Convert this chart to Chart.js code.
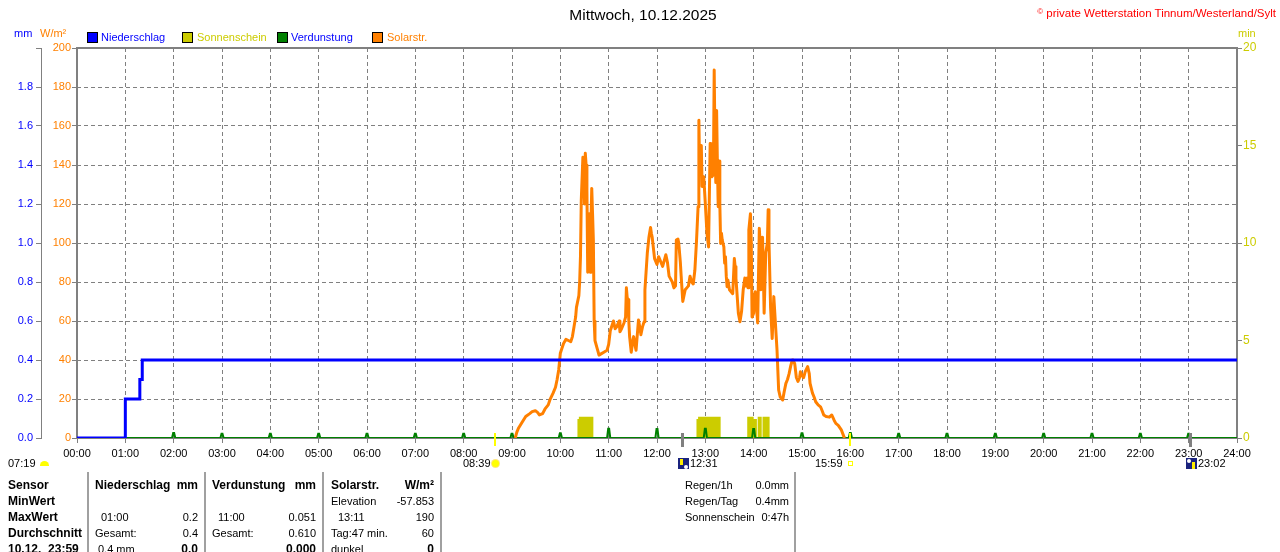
<!DOCTYPE html>
<html>
<head>
<meta charset="utf-8">
<script src="https://cdn.jsdelivr.net/npm/chart.js@4/dist/chart.umd.min.js"></script>
<style>
  html, body { margin:0; padding:0; background:#fff; }
  body { width:1280px; height:552px; overflow:hidden; position:relative; font-family:'Liberation Sans', Arial, sans-serif; font-size:11px; color:#000; }
  #c { position:absolute; left:0; top:0; }
  .t { position:absolute; white-space:nowrap; line-height:13px; }
  .b { font-weight:bold; font-size:12px; line-height:14px; }
  .r { text-align:right; }
  .box { position:absolute; width:9px; height:9px; border:1px solid #000; }
  .vl { position:absolute; top:472px; height:80px; width:2px; background:#a0a0a0; }
</style>
</head>
<body>
<canvas id="c" width="1280" height="552"></canvas>

<!-- header -->
<div class="t" style="left:0;width:1286px;text-align:center;top:6px;font-size:15.5px;line-height:18px;">Mittwoch, 10.12.2025</div>
<div class="t" style="right:4px;top:5px;color:#ff0000;font-size:11.5px;"><span style="font-size:8px;vertical-align:3px;">©</span> private Wetterstation Tinnum/Westerland/Sylt</div>

<div class="t" style="left:14px;top:27px;color:#0000ff;">mm</div>
<div class="t" style="left:40px;top:27px;color:#ff8000;">W/m²</div>
<div class="t" style="left:1238px;top:27px;color:#cccc00;">min</div>

<!-- legend -->
<div class="box" style="left:87px;top:32px;background:#0000ff;"></div>
<div class="t" style="left:101px;top:31px;color:#0000ff;">Niederschlag</div>
<div class="box" style="left:182px;top:32px;background:#cccc00;"></div>
<div class="t" style="left:197px;top:31px;color:#cccc00;">Sonnenschein</div>
<div class="box" style="left:277px;top:32px;background:#008000;"></div>
<div class="t" style="left:291px;top:31px;color:#0000ff;">Verdunstung</div>
<div class="box" style="left:372px;top:32px;background:#ff8000;"></div>
<div class="t" style="left:387px;top:31px;color:#ff8000;">Solarstr.</div>

<!-- sun / moon labels below axis -->
<div class="t" style="left:8px;top:457px;">07:19</div>
<div style="position:absolute;left:40px;top:461px;width:9px;height:5px;background:#ffff00;border-radius:5px 5px 0 0;"></div>
<div class="t" style="left:463px;top:457px;">08:39</div>
<div style="position:absolute;left:492px;top:460px;width:7px;height:7px;background:#ffff00;border-radius:50%;box-shadow:0 0 0 1px #ffe680;"></div>
<div style="position:absolute;left:678px;top:458px;width:11px;height:11px;background:#1a237e;">
  <div style="position:absolute;left:2px;top:1px;width:3px;height:6px;background:#ffee00;"></div>
  <div style="position:absolute;left:6px;top:7px;width:4px;height:4px;background:#ffffff;border-radius:2px;"></div>
</div>
<div class="t" style="left:690px;top:457px;">12:31</div>
<div class="t" style="left:815px;top:457px;">15:59</div>
<div style="position:absolute;left:848px;top:461px;width:3px;height:3px;border:1px solid #ffff00;"></div>
<div style="position:absolute;left:1186px;top:458px;width:11px;height:11px;background:#1a237e;">
  <div style="position:absolute;left:1px;top:1px;width:4px;height:4px;background:#ffffff;border-radius:2px;"></div>
  <div style="position:absolute;left:6px;top:4px;width:3px;height:7px;background:#ffee00;"></div>
</div>
<div class="t" style="left:1198px;top:457px;">23:02</div>

<!-- table -->
<div class="vl" style="left:87px;"></div>
<div class="vl" style="left:204px;"></div>
<div class="vl" style="left:322px;"></div>
<div class="vl" style="left:440px;"></div>
<div class="vl" style="left:794px;"></div>

<div class="t b" style="left:8px;top:478px;">Sensor</div>
<div class="t b" style="left:8px;top:494px;">MinWert</div>
<div class="t b" style="left:8px;top:510px;">MaxWert</div>
<div class="t b" style="left:8px;top:526px;">Durchschnitt</div>
<div class="t b" style="left:8px;top:542px;">10.12.&nbsp; 23:59</div>

<div class="t b" style="left:95px;top:478px;">Niederschlag</div>
<div class="t b r" style="right:1082px;top:478px;">mm</div>
<div class="t" style="left:101px;top:511px;">01:00</div>
<div class="t r" style="right:1082px;top:511px;">0.2</div>
<div class="t" style="left:95px;top:527px;">Gesamt:</div>
<div class="t r" style="right:1082px;top:527px;">0.4</div>
<div class="t" style="left:98px;top:543px;">0.4 mm</div>
<div class="t b r" style="right:1082px;top:542px;">0.0</div>

<div class="t b" style="left:212px;top:478px;">Verdunstung</div>
<div class="t b r" style="right:964px;top:478px;">mm</div>
<div class="t" style="left:218px;top:511px;">11:00</div>
<div class="t r" style="right:964px;top:511px;">0.051</div>
<div class="t" style="left:212px;top:527px;">Gesamt:</div>
<div class="t r" style="right:964px;top:527px;">0.610</div>
<div class="t b r" style="right:964px;top:542px;">0.000</div>

<div class="t b" style="left:331px;top:478px;">Solarstr.</div>
<div class="t b r" style="right:846px;top:478px;">W/m²</div>
<div class="t" style="left:331px;top:495px;">Elevation</div>
<div class="t r" style="right:846px;top:495px;">-57.853</div>
<div class="t" style="left:338px;top:511px;">13:11</div>
<div class="t r" style="right:846px;top:511px;">190</div>
<div class="t" style="left:331px;top:527px;">Tag:47 min.</div>
<div class="t r" style="right:846px;top:527px;">60</div>
<div class="t" style="left:331px;top:543px;">dunkel</div>
<div class="t b r" style="right:846px;top:542px;">0</div>

<div class="t" style="left:685px;top:479px;">Regen/1h</div>
<div class="t r" style="right:491px;top:479px;">0.0mm</div>
<div class="t" style="left:685px;top:495px;">Regen/Tag</div>
<div class="t r" style="right:491px;top:495px;">0.4mm</div>
<div class="t" style="left:685px;top:511px;">Sonnenschein</div>
<div class="t r" style="right:491px;top:511px;">0:47h</div>

<script>
// ---------- DATA ----------
const xTickLabels = ['00:00','01:00','02:00','03:00','04:00','05:00','06:00','07:00','08:00','09:00','10:00','11:00','12:00',
  '13:00','14:00','15:00','16:00','17:00','18:00','19:00','20:00','21:00','22:00','23:00','24:00'];

// Niederschlag (mm, cumulative) - time in minutes since midnight
const rainTime  = [0, 60, 78, 81, 1440];
const rainValue = [0, 0.2, 0.3, 0.4, 0.4];

// Verdunstung (mm) hourly spikes
const evapHour  = [2,3,4,5,6,7,8,9,10,11,12,13,14,15,16,17,18,19,20,21,22,23];
const evapValue = [0.026,0.022,0.022,0.022,0.022,0.022,0.022,0.022,0.024,0.048,0.046,0.048,0.046,0.024,0.026,0.022,0.022,0.022,0.022,0.022,0.022,0.022];

// Sonnenschein (min) intervals
const sunStart = [621, 623, 769, 771, 832, 840, 845, 851];
const sunEnd   = [623, 641, 771, 799, 840, 844, 850, 860];
const sunValue = [0.97, 1.09, 0.97, 1.09, 1.09, 0.97, 1.09, 1.09];

// Solarstrahlung (W/m²)
const solarTime = [544,546,548,552,557,562,565,569,572,574,578,581,585,587,591,594,596,598,600,602,604,607,610,613,615,617,619,620,623,624,
  625,626,628,629,630,631,632,633,634,635,636,637,638,639,640,641,642,643,645,647,648,650,654,658,660,662,666,668,670,673,674,
  676,679,681,682,683,684,685,686,688,690,691,693,694,697,699,700,702,704,705,708,710,712,713,714,717,720,722,724,727,729,
  731,733,735,739,741,743,744,746,747,749,750,752,755,757,759,761,763,765,767,769,771,772,773,774,775,776,778,780,782,784,786,
  787,788,790,791,792,793,794,795,796,797,798,799,800,801,803,804,805,806,807,808,810,812,814,816,817,818,821,823,825,827,829,
  830,832,833,834,836,837,838,840,841,842,845,847,848,849,851,852,853,855,857,858,859,861,863,865,867,869,871,873,876,878,
  880,882,884,886,888,889,891,893,895,897,898,900,902,904,907,909,910,913,915,917,920,923,925,927,930,934,937,940,942,945,
  949,952,953];
const solarValue = [0,3,5,7.7,11,12.5,13.5,14,13,11.8,12.5,14.9,17,19.5,23,26,30,35,43.5,46,48.5,50.6,50,49.4,52,57,62,67,73,80,
  93,122,144,140,120,146,140,127,85,100,115,85,110,128,115,101.5,60,50,47,44,42.5,43,44,45,48,55,60,56,57,60,54.5,
  56,59,62,77,72,71,60,52,44,50,52,47,45,60.5,56,53,57,59.6,76,95,103,108,105,103,92,89,93,91,88,91,
  94,90,83,80,77,78,101.5,102,100,90,83,70,76,77,78,83,80,79,86,100.7,118.6,163,135,142.6,150,129,134,120,105,98,151,
  140,134,135,188.7,150,131,168,140,118.6,142,120,99.8,105,101.5,98,89.6,93,83,77.6,81,76,75,74,92,88,82,64,59.6,65,76,82,
  78,82,77,106.7,115,101,62,64,72.6,75,59,107.5,100,76,103,85,64,95,100,117,101,67,51,72.5,58.8,45,24.6,21,19.5,24,
  28,30,33,37,40,40,38,31,29,31,34,32,31,34,36.6,33,28,23,21,18.6,17,16,14,11.8,11,10.7,11.8,9,7.5,6.5,
  4,0.7,0];

// Sun / moon markers (minutes)
const sunMarkTime  = [519, 959];   // Sonnenaufgang 08:39, Sonnenuntergang 15:59
const moonMarkTime = [751, 1382];  // Mond 12:31, 23:02

// ---------- build point lists ----------
const rainPts  = rainTime.map((t, i) => ({x: t, y: rainValue[i]}));
const solarPts = solarTime.map((t, i) => ({x: t, y: solarValue[i]}));
const evapPts = [{x: 60, y: 0}];
evapHour.forEach((h, i) => {
  evapPts.push({x: h*60 - 2, y: 0}, {x: h*60 - 0.6, y: evapValue[i]}, {x: h*60 + 0.6, y: evapValue[i]}, {x: h*60 + 2, y: 0});
});
evapPts.push({x: 1440, y: 0});
const sunPts = [];
sunStart.forEach((s, i) => {
  sunPts.push({x: s, y: 0}, {x: s, y: sunValue[i]}, {x: sunEnd[i], y: sunValue[i]}, {x: sunEnd[i], y: 0});
});

const FONT = "'Liberation Sans', Arial, sans-serif";
Chart.defaults.font.family = FONT;
Chart.defaults.font.size = 11;

const frame = {
  id: 'frame',
  beforeDatasetsDraw(chart) {
    const {ctx, chartArea: a} = chart;
    ctx.save();
    ctx.strokeStyle = '#808080';
    ctx.lineWidth = 2;
    ctx.strokeRect(a.left, a.top, a.right - a.left, a.bottom - a.top);
    ctx.restore();
  },
  afterDatasetsDraw(chart) {
    const {ctx, chartArea: a, scales} = chart;
    ctx.save();
    ctx.fillStyle = '#ffff00';
    sunMarkTime.forEach(t => {
      const x = scales.x.getPixelForValue(t);
      ctx.fillRect(Math.round(x) - 1, a.bottom - 5, 2, 13);
    });
    ctx.fillStyle = '#808080';
    moonMarkTime.forEach(t => {
      const x = scales.x.getPixelForValue(t);
      ctx.fillRect(Math.round(x) - 1, a.bottom - 5, 3, 14);
    });
    ctx.restore();
  }
};

new Chart(document.getElementById('c'), {
  type: 'line',
  data: {
    datasets: [
      { label: 'Niederschlag', data: rainPts, yAxisID: 'ymm', borderColor: '#0000ff', borderWidth: 3, stepped: true, pointRadius: 0, fill: false },
      { label: 'Solarstr.', data: solarPts, yAxisID: 'y', borderColor: '#ff8000', borderWidth: 3, borderJoinStyle: 'round', pointRadius: 0, tension: 0, fill: false },
      { label: 'Verdunstung', data: evapPts, yAxisID: 'ymm', borderColor: '#008000', borderWidth: 2, borderJoinStyle: 'miter', pointRadius: 0, tension: 0, fill: false },
      { label: 'Sonnenschein', data: sunPts, yAxisID: 'ymin', borderColor: 'rgba(0,0,0,0)', borderWidth: 0, backgroundColor: '#cccc00', pointRadius: 0, tension: 0, fill: 'origin' }
    ]
  },
  options: {
    responsive: false,
    animation: false,
    devicePixelRatio: 1,
    layout: { padding: { top: 48, left: 0, right: 0, bottom: 0 } },
    plugins: { legend: { display: false }, tooltip: { enabled: false }, title: { display: false } },
    scales: {
      x: {
        type: 'linear', min: 0, max: 1440,
        ticks: { stepSize: 60, autoSkip: false, maxRotation: 0, color: '#000', padding: 4,
                 callback: (v) => xTickLabels[Math.round(v / 60)] },
        grid: { color: '#808080', lineWidth: 1, tickLength: 5, tickColor: '#808080' },
        border: { display: false, dash: [4, 3] },
        afterFit: (s) => { s.height = 114; }
      },
      y: {
        type: 'linear', position: 'left', min: 0, max: 200, weight: 0,
        ticks: { stepSize: 20, color: '#ff8000', padding: 1 },
        grid: { color: '#808080', lineWidth: 1, tickLength: 5, tickColor: '#808080' },
        border: { display: false, dash: [4, 3] },
        afterFit: (s) => { s.width = 36; }
      },
      ymm: {
        type: 'linear', position: 'left', min: 0, max: 2, weight: 1,
        ticks: { stepSize: 0.2, color: '#0000ff', padding: 3,
                 callback: (v) => (v > 1.99 ? '' : Number(v).toFixed(1)) },
        grid: { drawOnChartArea: false, tickLength: 5, tickColor: '#808080' },
        border: { display: true, color: '#808080', width: 1 },
        afterFit: (s) => { s.width = 41; }
      },
      ymin: {
        type: 'linear', position: 'right', min: 0, max: 20,
        ticks: { stepSize: 5, color: '#cccc00', padding: 1, font: { size: 12 } },
        grid: { drawOnChartArea: false, tickLength: 5, tickColor: '#808080' },
        border: { display: false },
        afterFit: (s) => { s.width = 43; }
      }
    }
  },
  plugins: [frame]
});
</script>
</body>
</html>
